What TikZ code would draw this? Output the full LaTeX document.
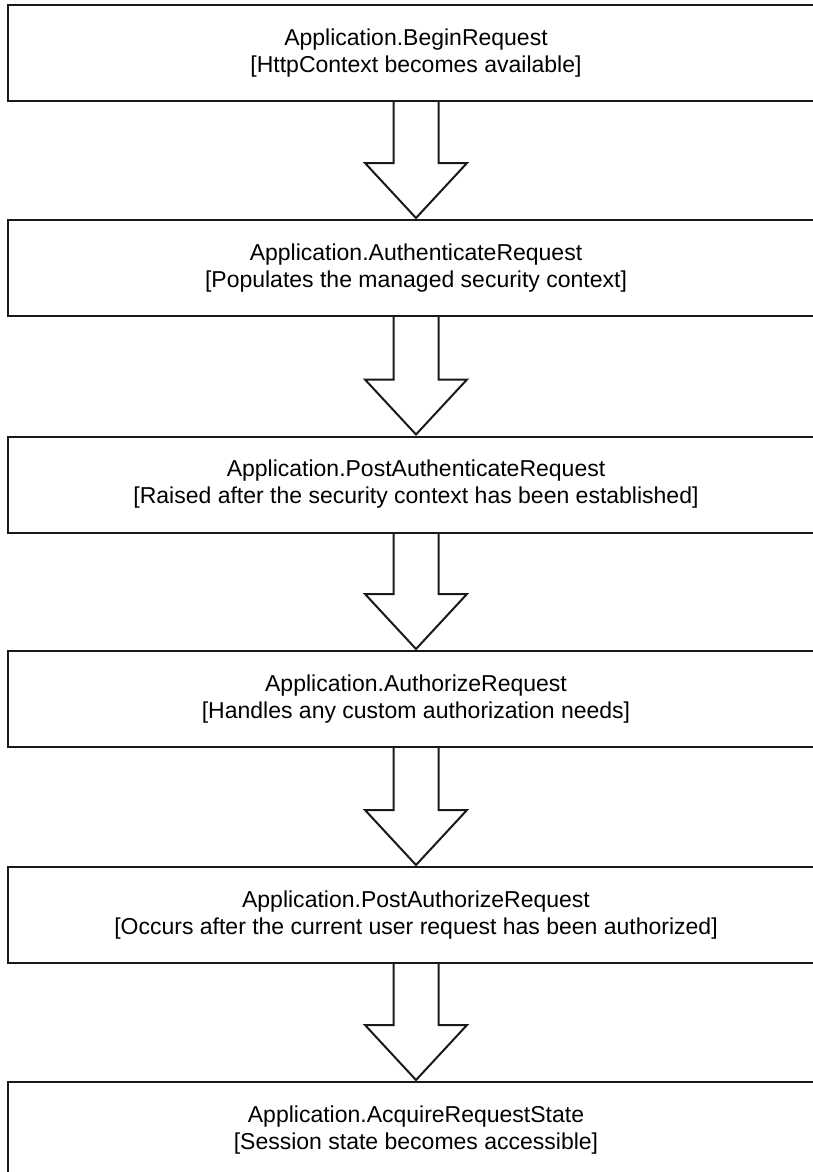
\documentclass[tikz,border=0pt]{standalone}
\usepackage{fontspec}
\setmainfont{Liberation Sans}
\begin{document}
\begin{tikzpicture}[x=1pt,y=-1pt,
  stagebox/.style={draw=black!90,line width=2pt,minimum width=816pt,minimum height=96pt,
    inner sep=0pt,align=center,font=\fontsize{23}{27}\selectfont},
  flow/.style={draw=black!90,line width=2pt,line join=miter}]
\useasboundingbox (0,0) rectangle (812,1172);
\node[stagebox] (b1) at (416,53) {Application.BeginRequest\\\relax[HttpContext becomes available]};
\node[stagebox] (b2) at (416,268) {Application.AuthenticateRequest\\\relax[Populates the managed security context]};
\node[stagebox] (b3) at (416,484.5) {Application.PostAuthenticateRequest\\\relax[Raised after the security context has been established]};
\node[stagebox] (b4) at (416,699) {Application.AuthorizeRequest\\\relax[Handles any custom authorization needs]};
\node[stagebox] (b5) at (416,915) {Application.PostAuthorizeRequest\\\relax[Occurs after the current user request has been authorized]};
\node[stagebox] (b6) at (416,1130) {Application.AcquireRequestState\\\relax[Session state becomes accessible]};
\foreach \a/\b in {b1/b2,b2/b3,b3/b4,b4/b5,b5/b6}{
  \draw[flow] ([xshift=-22.5pt]\a.south) |- ([xshift=-51pt,yshift=56pt]\b.north)
    -- ([yshift=1pt]\b.north) -- ([xshift=51pt,yshift=56pt]\b.north) -| ([xshift=22.5pt]\a.south);
}
\end{tikzpicture}
\end{document}
